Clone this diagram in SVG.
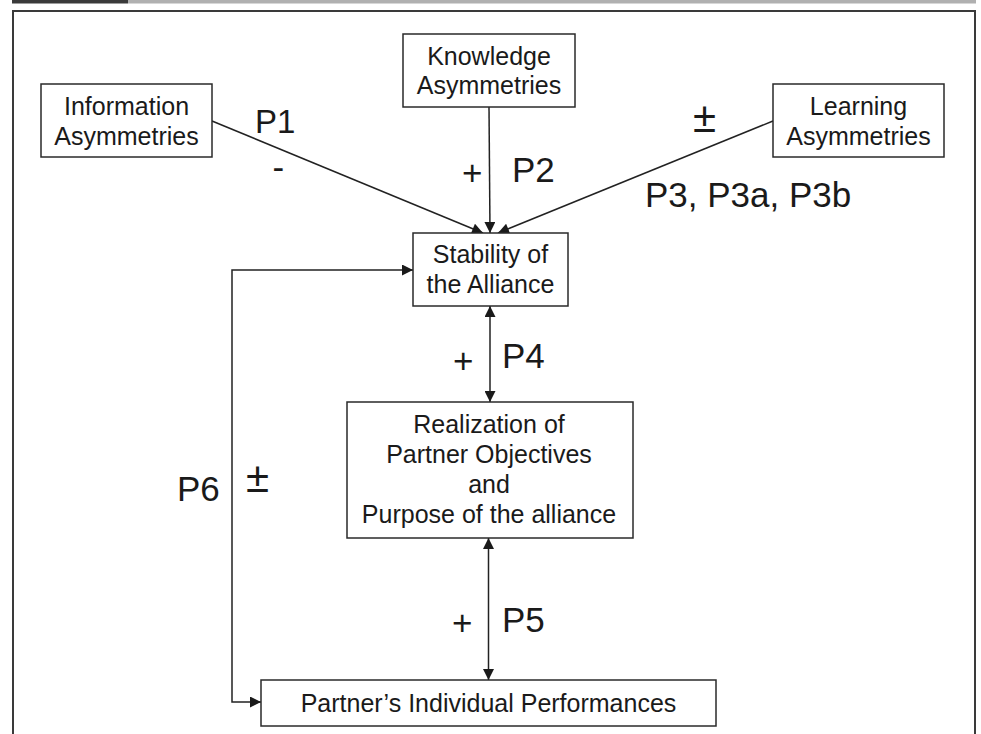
<svg xmlns="http://www.w3.org/2000/svg" width="981" height="734" viewBox="0 0 981 734">
<defs>
<style>
.box{fill:#fff;stroke:#2a2a2a;stroke-width:1.5}
.t{font-family:"Liberation Sans",Arial,sans-serif;font-size:25px;fill:#1a1a1a;text-anchor:middle}
.lbl{font-family:"Liberation Sans",Arial,sans-serif;font-size:35px;fill:#1a1a1a}
.ln{fill:none;stroke:#222;stroke-width:1.5}
</style>
<marker id="ah" viewBox="0 0 10 10" refX="10" refY="5" markerUnits="userSpaceOnUse" markerWidth="13" markerHeight="11" orient="auto-start-reverse">
<path d="M0,0 L10,5 L0,10 z" fill="#1a1a1a"/>
</marker>
</defs>
<rect width="981" height="734" fill="#fff"/>
<rect x="12" y="0" width="116" height="3.5" fill="#3a3a3a"/>
<rect x="128" y="0" width="848" height="3.5" fill="#b0b0b0"/>
<path d="M13,734 V11 H975 V734" fill="none" stroke="#3a3a3a" stroke-width="2"/>

<g id="connectors">
<line class="ln" x1="212" y1="121" x2="483" y2="233" marker-end="url(#ah)"/>
<line class="ln" x1="489" y1="107" x2="490" y2="233" marker-end="url(#ah)"/>
<line class="ln" x1="773" y1="121" x2="498" y2="233" marker-end="url(#ah)"/>
<line class="ln" x1="490" y1="306" x2="490" y2="402" marker-start="url(#ah)" marker-end="url(#ah)"/>
<line class="ln" x1="488.5" y1="538" x2="488.5" y2="680" marker-start="url(#ah)" marker-end="url(#ah)"/>
<polyline class="ln" points="413,270 232,270 232,702 261,702" marker-start="url(#ah)" marker-end="url(#ah)"/>
</g>

<g id="labels">
<text class="lbl" x="255" y="133" style="font-size:33px">P1</text>
<text class="lbl" x="272.5" y="179">-</text>
<text class="lbl" x="462" y="185">+</text>
<text class="lbl" x="512" y="182">P2</text>
<text class="lbl" x="693" y="132" style="font-size:42px">±</text>
<text class="lbl" x="645" y="207">P3, P3a, P3b</text>
<text class="lbl" x="453" y="373">+</text>
<text class="lbl" x="502" y="368">P4</text>
<text class="lbl" x="452" y="635">+</text>
<text class="lbl" x="502" y="632">P5</text>
<text class="lbl" x="177" y="501">P6</text>
<text class="lbl" x="246" y="492" style="font-size:42px">±</text>
</g>

<g id="information">
<rect class="box" x="41" y="84" width="171" height="73"/>
<text class="t" x="126.5" y="115">Information</text>
<text class="t" x="126.5" y="145">Asymmetries</text>
</g>
<g id="knowledge">
<rect class="box" x="403" y="34" width="172" height="73"/>
<text class="t" x="489" y="65">Knowledge</text>
<text class="t" x="489" y="94">Asymmetries</text>
</g>
<g id="learning">
<rect class="box" x="773" y="84" width="171" height="73"/>
<text class="t" x="858.5" y="115">Learning</text>
<text class="t" x="858.5" y="145">Asymmetries</text>
</g>
<g id="stability">
<rect class="box" x="413" y="233" width="155" height="73"/>
<text class="t" x="490.5" y="263">Stability of</text>
<text class="t" x="490.5" y="293">the Alliance</text>
</g>
<g id="realization">
<rect class="box" x="347" y="402" width="286" height="136"/>
<text class="t" x="489" y="433">Realization of</text>
<text class="t" x="489" y="463">Partner Objectives</text>
<text class="t" x="489" y="493">and</text>
<text class="t" x="489" y="523">Purpose of the alliance</text>
</g>
<g id="performances">
<rect class="box" x="261" y="680" width="455" height="46"/>
<text class="t" x="488.5" y="712">Partner’s Individual Performances</text>
</g>
</svg>
